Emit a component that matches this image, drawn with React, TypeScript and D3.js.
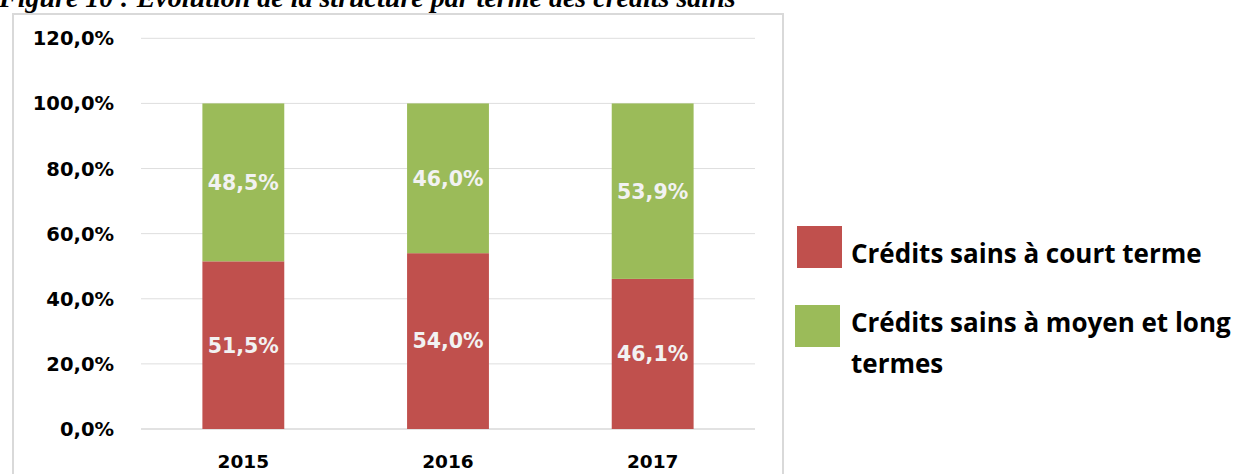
import * as d3 from "d3";

const years = ["2015", "2016", "2017"];
const courtTerme = [51.5, 54.0, 46.1];
const moyenLongTerme = [48.5, 46.0, 53.9];
const yTicks = [0, 20, 40, 60, 80, 100, 120];
const seriesNames = ["Crédits sains à court terme", "Crédits sains à moyen et long termes"];
const colors = ["#C0504D", "#9BBB59"];

const W = 1241;
const H = 474;

export default function App() {
  const x = d3.scaleBand().domain(years).range([141, 755]).paddingInner(0.6).paddingOuter(0.3);
  const y = d3.scaleLinear().domain([0, 120]).range([429, 38.3]);

  const rows = years.map((yr, i) => ({ year: yr, court: courtTerme[i], long: moyenLongTerme[i] }));
  const stacked = d3.stack<(typeof rows)[number]>().keys(["court", "long"])(rows);

  const fmt = (v: number) => v.toFixed(1).replace(".", ",") + "%";
  const verdana = "'DejaVu Sans', Verdana, sans-serif";
  const legendFont = "'Open Sans', Lato, sans-serif";

  return (
    <svg width={W} height={H} style={{ position: "absolute", left: 0, top: 0, background: "#fff" }}>
      {/* title, cut by the top edge like in the source */}
      <text x={-1} y={7} fontFamily="'Liberation Serif', 'Times New Roman', serif" fontStyle="italic" fontWeight="bold" fontSize={28}>
        Figure 10 : Evolution de la structure par terme des crédits sains
      </text>

      {/* chart frame */}
      <rect x={13} y={14} width={770} height={480} fill="none" stroke="#d9d9d9" strokeWidth={2} />

      {/* gridlines */}
      {yTicks.map((t) => (
        <line key={t} x1={141} x2={755} y1={y(t)} y2={y(t)} stroke={t === 0 ? "#d9d9d9" : "#dedede"} strokeWidth={t === 0 ? 1.5 : 1} />
      ))}

      {/* y labels */}
      {yTicks.map((t) => (
        <text key={t} x={114} y={y(t)} dy="0.36em" textAnchor="end" fontFamily={verdana} fontWeight="bold" fontSize={19.5} fill="#000">
          {fmt(t)}
        </text>
      ))}

      {/* bars */}
      {stacked.map((s, si) => (
        <g key={s.key}>
          {s.map((d, i) => {
            const x0 = x(rows[i].year)!;
            const y0 = y(d[0]);
            const y1 = y(d[1]);
            return (
              <g key={i}>
                <rect x={x0} y={y1} width={x.bandwidth()} height={y0 - y1} fill={colors[si]} />
                <text
                  x={x0 + x.bandwidth() / 2}
                  y={(y0 + y1) / 2}
                  dy="0.36em"
                  textAnchor="middle"
                  fontFamily={verdana}
                  fontWeight="bold"
                  fontSize={20.5}
                  fill="#f2f2f2"
                >
                  {fmt(d[1] - d[0])}
                </text>
              </g>
            );
          })}
        </g>
      ))}

      {/* x labels */}
      {years.map((yr) => (
        <text key={yr} x={x(yr)! + x.bandwidth() / 2} y={461} dy="0.36em" textAnchor="middle" fontFamily={verdana} fontWeight="bold" fontSize={18.5} fill="#000">
          {yr}
        </text>
      ))}

      {/* legend */}
      <rect x={797} y={226} width={45} height={42} fill={colors[0]} />
      <text x={851} y={263} fontFamily={legendFont} fontWeight="bold" fontSize={26} fill="#000">
        {seriesNames[0]}
      </text>
      <rect x={795} y={305} width={45} height={42} fill={colors[1]} />
      <text x={851} y={332} fontFamily={legendFont} fontWeight="bold" fontSize={26} fill="#000">
        <tspan x={851}>Crédits sains à moyen et long</tspan>
        <tspan x={851} y={373}>termes</tspan>
      </text>
    </svg>
  );
}
